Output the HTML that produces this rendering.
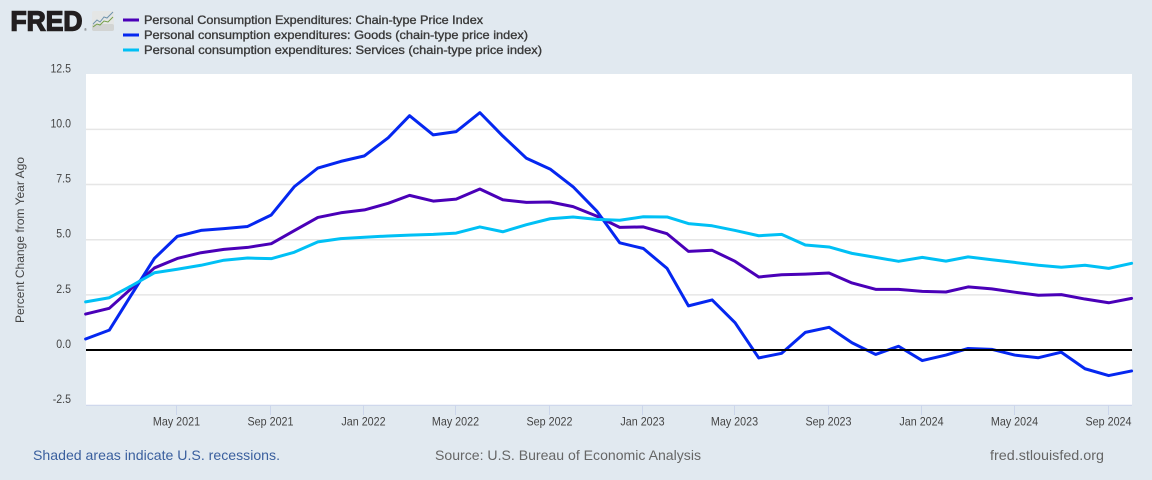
<!DOCTYPE html>
<html lang="en">
<head>
<meta charset="utf-8">
<title>FRED chart: Personal Consumption Expenditures price index</title>
<style>
  html, body { margin: 0; padding: 0; background: #e1e9f0; }
  svg { display: block; font-family: "Liberation Sans", Arial, sans-serif; }
</style>
</head>
<body>
<svg id="chart" xmlns="http://www.w3.org/2000/svg" width="1152" height="480" viewBox="0 0 1152 480">
  <rect x="0" y="0" width="1152" height="480" fill="#e1e9f0"/>
  <rect x="86" y="74" width="1046" height="331" fill="#ffffff"/>
  <g id="grid"></g>
  <g id="y-labels"></g>
  <g id="x-axis"></g>
  <g id="series"></g>

  <g>
    <text x="10.5" y="30.5" font-size="27.5" font-weight="700" fill="#231f20" stroke="#231f20" stroke-width="1.4" textLength="72" lengthAdjust="spacingAndGlyphs">FRED</text>
    <text x="84" y="31" font-size="4" fill="#555555">®</text>
    <g>
      <rect x="92" y="11" width="22" height="20" rx="2" fill="#e4e6e5"/>
      <rect x="92" y="24" width="22" height="7" rx="2" fill="#d2d4d3"/>
      <polyline points="93,24 97,20 100,22 104,17 107,18 113,12" fill="none" stroke="#6f93ad" stroke-width="1"/>
      <polyline points="93,27 97,24 100,25 104,21 108,22 113,17" fill="none" stroke="#76a04a" stroke-width="1"/>
    </g>
  </g>

  <g>
    <g>
      <rect x="123" y="18.5" width="16" height="3" fill="#4a00b8"/>
      <text x="144" y="24" font-size="12" fill="#3a3a3a" stroke="#3a3a3a" stroke-width="0.35" textLength="339" lengthAdjust="spacingAndGlyphs">Personal Consumption Expenditures: Chain-type Price Index</text>
    </g>
    <g>
      <rect x="123" y="33.5" width="16" height="3" fill="#0527f0"/>
      <text x="144" y="39" font-size="12" fill="#3a3a3a" stroke="#3a3a3a" stroke-width="0.35" textLength="384" lengthAdjust="spacingAndGlyphs">Personal consumption expenditures: Goods (chain-type price index)</text>
    </g>
    <g>
      <rect x="123" y="48.5" width="16" height="3" fill="#00c0f5"/>
      <text x="144" y="54" font-size="12" fill="#3a3a3a" stroke="#3a3a3a" stroke-width="0.35" textLength="398" lengthAdjust="spacingAndGlyphs">Personal consumption expenditures: Services (chain-type price index)</text>
    </g>
  </g>

  <text transform="translate(24,240) rotate(-90)" text-anchor="middle" font-size="12" fill="#444444" textLength="166" lengthAdjust="spacingAndGlyphs">Percent Change from Year Ago</text>

  <text x="33" y="460" font-size="14" fill="#3a5f9e" textLength="247" lengthAdjust="spacingAndGlyphs">Shaded areas indicate U.S. recessions.</text>
  <text x="435" y="460" font-size="14" fill="#666666" textLength="266" lengthAdjust="spacingAndGlyphs">Source: U.S. Bureau of Economic Analysis</text>
  <text x="990" y="460" font-size="14" fill="#666666" textLength="114" lengthAdjust="spacingAndGlyphs">fred.stlouisfed.org</text>
</svg>

<script>
const startYear = 2021;
const yTicks = [12.5, 10, 7.5, 5, 2.5, 0, -2.5];
const yTickLabels = ["12.5", "10.0", "7.5", "5.0", "2.5", "0.0", "-2.5"];
const xTickMonthIndexes = [4, 8, 12, 16, 20, 24, 28, 32, 36, 40, 44];
const xTickLabels = ["May 2021", "Sep 2021", "Jan 2022", "May 2022", "Sep 2022", "Jan 2023", "May 2023", "Sep 2023", "Jan 2024", "May 2024", "Sep 2024"];

const pceValues = [1.63, 1.89, 2.76, 3.72, 4.15, 4.41, 4.56, 4.65, 4.82, 5.41, 6.01, 6.22,
  6.35, 6.65, 7.01, 6.75, 6.84, 7.3, 6.81, 6.69, 6.71, 6.5, 6.07, 5.56,
  5.58, 5.27, 4.47, 4.52, 4.02, 3.31, 3.41, 3.44, 3.49, 3.04, 2.75, 2.75,
  2.66, 2.63, 2.86, 2.77, 2.62, 2.48, 2.51, 2.31, 2.14, 2.34];
const goodsValues = [0.5, 0.9, 2.45, 4.15, 5.15, 5.42, 5.5, 5.6, 6.12, 7.4, 8.25, 8.55,
  8.8, 9.62, 10.62, 9.75, 9.9, 10.76, 9.7, 8.69, 8.2, 7.4, 6.3, 4.86,
  4.6, 3.7, 2.0, 2.27, 1.24, -0.36, -0.15, 0.8, 1.03, 0.33, -0.2, 0.17,
  -0.48, -0.23, 0.07, 0.03, -0.23, -0.35, -0.1, -0.85, -1.16, -0.95];
const servicesValues = [2.18, 2.37, 2.89, 3.5, 3.66, 3.84, 4.07, 4.17, 4.14, 4.43, 4.9, 5.05,
  5.11, 5.17, 5.21, 5.24, 5.3, 5.58, 5.36, 5.68, 5.95, 6.03, 5.92, 5.88,
  6.04, 6.03, 5.73, 5.63, 5.42, 5.18, 5.24, 4.76, 4.67, 4.38, 4.2, 4.02,
  4.2, 4.03, 4.22, 4.09, 3.97, 3.84, 3.75, 3.84, 3.7, 3.93];

const svgNS = "http://www.w3.org/2000/svg";
const xStart = Date.UTC(startYear, 0, 1);
const xEnd = Date.UTC(startYear, pceValues.length - 1, 1);

function xScale(monthIndex) {
  const t = Date.UTC(startYear, monthIndex, 1);
  return 85.6 + ((t - xStart) / (xEnd - xStart)) * 1046;
}
function yScale(v) {
  return 350 - v * 22.06;
}
function make(tag, attrs, parent) {
  const el = document.createElementNS(svgNS, tag);
  Object.keys(attrs).forEach(function (k) { el.setAttribute(k, attrs[k]); });
  parent.appendChild(el);
  return el;
}
function condense(textEl, factor) {
  const natural = textEl.getComputedTextLength();
  textEl.setAttribute("textLength", (natural * factor).toFixed(2));
  textEl.setAttribute("lengthAdjust", "spacingAndGlyphs");
}

const gridGroup = document.getElementById("grid");
const yLabelGroup = document.getElementById("y-labels");
yTicks.forEach(function (v, i) {
  const y = yScale(v);
  if (v !== 0 && v !== -2.5 && v !== 12.5) {
    const line = make("line", { x1: 86, x2: 1132, y1: y, y2: y, stroke: "#e6e6e6", "stroke-width": 1.5 }, gridGroup);
    
    
  }
  const label = make("text", { x: 71, y: y - 2, "text-anchor": "end", "font-size": 12, fill: "#444444" }, yLabelGroup);
  
  
  label.textContent = yTickLabels[i];
  condense(label, 0.88);
});

const xAxisGroup = document.getElementById("x-axis");
const axisLine = make("line", { x1: 86, x2: 1132, y1: 405.3, y2: 405.3, stroke: "#ccd6eb", "stroke-width": 1.2 }, xAxisGroup);


xTickMonthIndexes.forEach(function (m, i) {
  const x = Math.round(xScale(m) - 1) + 0.5;
  const tick = make("line", { x1: x, x2: x, y1: 405, y2: 415, stroke: "#ccd6eb", "stroke-width": 1 }, xAxisGroup);
  
  
  const label = make("text", { x: x, y: 425.3, "text-anchor": "middle", "font-size": 12, fill: "#444444" }, xAxisGroup);
  
  
  label.textContent = xTickLabels[i];
  condense(label, 0.895);
});

const seriesGroup = document.getElementById("series");
function drawSeries(values, color, name) {
  const pts = values.map(function (v, i) {
    return xScale(i).toFixed(2) + "," + yScale(v).toFixed(2);
  }).join(" ");
  const line = make("polyline", { points: pts, fill: "none", stroke: color, "stroke-width": 3, "stroke-linejoin": "round", "stroke-linecap": "round" }, seriesGroup);
  
  
}
drawSeries(pceValues, "#4a00b8", "line-pce");
drawSeries(goodsValues, "#0527f0", "line-goods");
drawSeries(servicesValues, "#00c0f5", "line-services");

const zero = make("line", { x1: 86, x2: 1132, y1: yScale(0), y2: yScale(0), stroke: "#000000", "stroke-width": 2 }, seriesGroup);


</script>
</body>
</html>
